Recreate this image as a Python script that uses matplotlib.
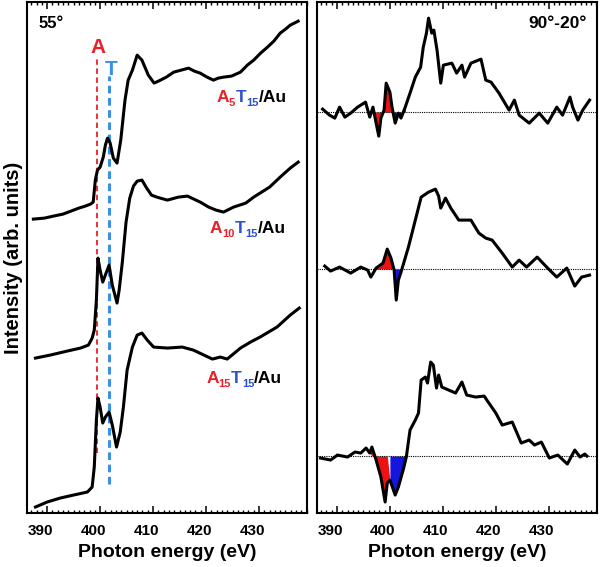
import matplotlib
matplotlib.use("Agg")
import matplotlib.pyplot as plt
from matplotlib.ticker import MultipleLocator
from matplotlib.transforms import offset_copy, ScaledTranslation
import numpy as np

plt.rcParams['font.family'] = ['Liberation Sans', 'DejaVu Sans']
plt.rcParams['font.weight'] = 'bold'

# ---- left panel: 55 deg spectra (arb. units) ----
e_a5 = [387.4, 389.5, 391.2, 393.0, 394.5, 396.0, 397.2, 398.2, 398.7, 399.1,
        399.5, 400.0, 400.6, 401.0, 401.4, 401.9, 402.5, 403.2, 403.9, 404.7,
        405.3, 406.1, 407.0, 407.9, 409.1, 410.2, 411.4, 412.5, 413.9, 415.3,
        416.7, 417.8, 418.9, 420.2, 421.4, 422.3, 423.3, 424.8, 426.5, 427.8,
        429.0, 430.3, 431.6, 432.8, 434.0, 435.0, 435.9, 437.4]
i_a5 = [294, 295, 297, 299, 302, 305, 307, 309, 311, 333,
        343, 346, 356, 368, 375, 370, 355, 350, 373, 413,
        433, 443, 458, 453, 438, 430, 433, 436, 441, 443,
        445, 442, 440, 436, 433, 435, 436, 437, 441, 448,
        453, 460, 466, 472, 480, 484, 488, 492]

e_a10 = [387.8, 390.6, 393.8, 396.3, 397.8, 398.5, 398.9, 399.3, 399.6, 400.0,
         400.5, 401.2, 401.7, 402.3, 403.2, 403.6, 404.2, 404.9, 405.6, 406.3,
         407.0, 407.9, 408.8, 409.7, 410.7, 412.7, 414.8, 416.5, 418.9, 420.5,
         421.9, 423.3, 425.2, 427.5, 429.0, 430.5, 432.0, 434.0, 435.9, 437.4]
i_a10 = [155, 158, 162, 165, 168, 175, 183, 213, 255, 243,
         231, 241, 248, 228, 210, 223, 251, 291, 315, 327,
         332, 333, 325, 318, 316, 313, 316, 317, 311, 306,
         303, 301, 306, 310, 316, 321, 326, 336, 345, 351]

e_a15 = [387.8, 390.0, 392.5, 395.0, 397.6, 398.5, 398.9, 399.3, 399.6, 400.0,
         400.5, 401.0, 401.7, 402.3, 403.1, 403.8, 404.4, 405.1, 406.1, 407.0,
         407.9, 408.9, 410.1, 412.7, 415.5, 417.6, 419.6, 421.2, 422.7, 424.0,
         426.5, 428.4, 430.2, 431.8, 433.4, 435.9, 437.6]
i_a15 = [6, 11, 15, 18, 21, 26, 46, 93, 115, 106,
         90, 96, 101, 88, 66, 81, 106, 143, 166, 178,
         180, 173, 166, 165, 166, 163, 158, 154, 156, 154,
         165, 171, 176, 181, 186, 198, 205]

# ---- right panel: 90-20 deg difference spectra ----
e_d5 = [387.3, 388.6, 389.6, 390.5, 391.5, 392.6, 393.9, 395.4, 396.2, 396.8,
        397.4, 397.9, 398.3, 398.9, 399.3, 400.0, 400.4, 401.0, 401.6, 402.1,
        402.9, 403.8, 404.8, 405.8, 406.3, 406.9, 407.3, 407.9, 408.3, 408.9,
        409.6, 410.1, 411.7, 412.6, 413.6, 414.1, 415.3, 417.2, 418.1, 419.1,
        420.6, 422.5, 423.5, 424.4, 426.3, 428.2, 429.8, 431.5, 432.6, 434.0,
        434.5, 435.5, 436.4, 437.7]
i_d5 = [404, 398, 395, 406, 396, 400, 406, 411, 396, 406,
        390, 377, 395, 403, 430, 421, 406, 390, 400, 395,
        406, 420, 436, 446, 466, 480, 495, 480, 483, 463,
        430, 448, 450, 440, 448, 436, 450, 454, 433, 431,
        420, 403, 413, 398, 390, 400, 390, 406, 398, 416,
        406, 393, 403, 413]

e_d10 = [387.7, 388.8, 390.5, 392.6, 394.5, 395.8, 396.4, 397.4, 398.7, 399.5,
         400.2, 400.8, 401.2, 401.6, 402.1, 403.5, 404.8, 405.9, 407.3, 408.6,
         409.2, 409.6, 410.5, 411.5, 413.0, 415.3, 416.8, 418.1, 419.3, 421.2,
         423.1, 424.4, 425.8, 427.8, 429.6, 431.5, 433.4, 434.9, 436.2, 437.7]
i_d10 = [247, 242, 246, 240, 246, 243, 236, 245, 250, 264,
         255, 243, 213, 233, 241, 266, 293, 316, 321, 324,
         317, 305, 315, 305, 293, 293, 280, 275, 273, 260,
         246, 253, 246, 256, 246, 236, 245, 227, 236, 238]

e_d15 = [386.9, 388.8, 390.1, 392.0, 393.4, 394.5, 395.5, 396.2, 396.6, 397.4,
         398.3, 399.1, 399.5, 400.0, 401.0, 401.6, 402.5, 403.1, 403.8, 404.8,
         405.4, 405.9, 406.7, 407.1, 407.7, 408.2, 408.8, 409.2, 409.8, 411.1,
         412.4, 413.6, 414.5, 416.2, 417.8, 418.3, 420.0, 421.2, 423.1, 424.8,
         426.3, 427.3, 428.6, 430.1, 431.7, 433.5, 434.9, 435.9, 436.8, 437.2]
i_d15 = [55, 53, 58, 56, 61, 60, 65, 60, 66, 53,
         36, 11, 30, 33, 18, 26, 43, 56, 83, 93,
         100, 133, 136, 130, 151, 148, 125, 138, 126, 123,
         120, 131, 118, 116, 117, 113, 100, 88, 91, 70,
         73, 68, 71, 55, 58, 49, 63, 56, 59, 57]

# zero lines of the difference spectra, and where A (red) turns into T (blue)
d_base = [401, 244, 57]
d_split = [400.6, 400.7, 399.8]

# resonance positions
e_A = 399.4
e_T = 401.75

RED = '#e8202a'
BLUE_TXT = '#2a4fd0'
LIGHT_BLUE = '#3b8fe8'

fig = plt.figure(figsize=(6.0, 5.67), dpi=100)
ax1 = fig.add_axes([0.045, 0.0952, 0.467, 0.901])
ax2 = fig.add_axes([0.528, 0.0952, 0.467, 0.901])

for ax in (ax1, ax2):
    ax.set_xlim(386.2, 439.1)
    ax.set_ylim(0, 511)
    ax.set_yticks([])
    ax.xaxis.set_major_locator(MultipleLocator(10))
    ax.xaxis.set_minor_locator(MultipleLocator(1))
    ax.tick_params(axis='x', which='both', direction='in', top=True, bottom=True,
                   labelsize=11, pad=8)
    ax.tick_params(axis='x', which='major', length=5, width=1.1)
    ax.tick_params(axis='x', which='minor', length=2.5, width=1.0)
    for sp in ax.spines.values():
        sp.set_linewidth(1.5)
    ax.set_xlabel('Photon energy (eV)', fontsize=14, fontweight='bold', labelpad=4)
    # tick labels sit a little to the left of their ticks in the original
    shift = ScaledTranslation(-5 / 72, 0, fig.dpi_scale_trans)
    for lab in ax.get_xticklabels():
        lab.set_transform(lab.get_transform() + shift)
        lab.set_fontweight('bold')

ax1.set_ylabel('Intensity (arb. units)', fontsize=14.5, fontweight='bold', labelpad=3)

# left panel curves
ax1.plot([e_A, e_A], [60, 455], color=RED, lw=1.3, dashes=(3, 2))
ax1.plot([e_T, e_T], [29, 437], color=LIGHT_BLUE, lw=2.2, dashes=(2.5, 1.5))
for e, i in ((e_a5, i_a5), (e_a10, i_a10), (e_a15, i_a15)):
    ax1.plot(e, i, color='black', lw=2.2, solid_joinstyle='round')

ax1.text(e_A + 0.2, 460, 'A', color=RED, fontsize=15, fontweight='bold',
         ha='center', va='baseline')
ax1.text(e_T + 0.4, 438, 'T', color=LIGHT_BLUE, fontsize=15, fontweight='bold',
         ha='center', va='baseline')
ax1.text(0.04, 0.949, '55°', transform=ax1.transAxes, fontsize=12,
         fontweight='bold', ha='left', va='baseline')


def sample_label(ax, x, y, n_a, n_t):
    # right-aligned "A_nT_n/Au" with coloured pieces
    parts = [('A', RED, 12.5, 0), (n_a, RED, 8, -4),
             ('T', BLUE_TXT, 12.5, 0), (n_t, BLUE_TXT, 8, -4),
             ('/Au', 'black', 12.5, 0)]
    r = fig.canvas.get_renderer()
    texts = []
    for s, c, fs, dy in parts:
        t = ax.text(x, y, s, color=c, fontsize=fs, fontweight='bold',
                    ha='left', va='baseline')
        texts.append(t)
    widths = [t.get_window_extent(r).width for t in texts]
    cur = -sum(widths)
    for t, w, p in zip(texts, widths, parts):
        t.set_transform(offset_copy(ax.transData, fig=fig, x=cur, y=p[3], units='dots'))
        cur += w


sample_label(ax1, 435.2, 411, '5', '15')
sample_label(ax1, 435.1, 280, '10', '15')
sample_label(ax1, 434.4, 130, '15', '15')

# right panel: difference spectra with shaded A/T features
for e, i, b, s in ((e_d5, i_d5, d_base[0], d_split[0]),
                   (e_d10, i_d10, d_base[1], d_split[1]),
                   (e_d15, i_d15, d_base[2], d_split[2])):
    e = np.array(e)
    i = np.array(i, dtype=float)
    ax2.axhline(b, color='black', lw=0.8, ls=(0, (1, 1)))
    near = (e > 396.5) & (e < 403.5)
    ax2.fill_between(e, i, b, where=near & (e <= s), interpolate=True,
                     color='#ee1111', lw=0)
    ax2.fill_between(e, i, b, where=near & (e >= s), interpolate=True,
                     color='#1515e0', lw=0)
    ax2.plot(e, i, color='black', lw=2.2, solid_joinstyle='round')

ax2.text(0.964, 0.949, '90°-20°', transform=ax2.transAxes, fontsize=12.5,
         fontweight='bold', ha='right', va='baseline')

fig.savefig('out.png', dpi=100)
